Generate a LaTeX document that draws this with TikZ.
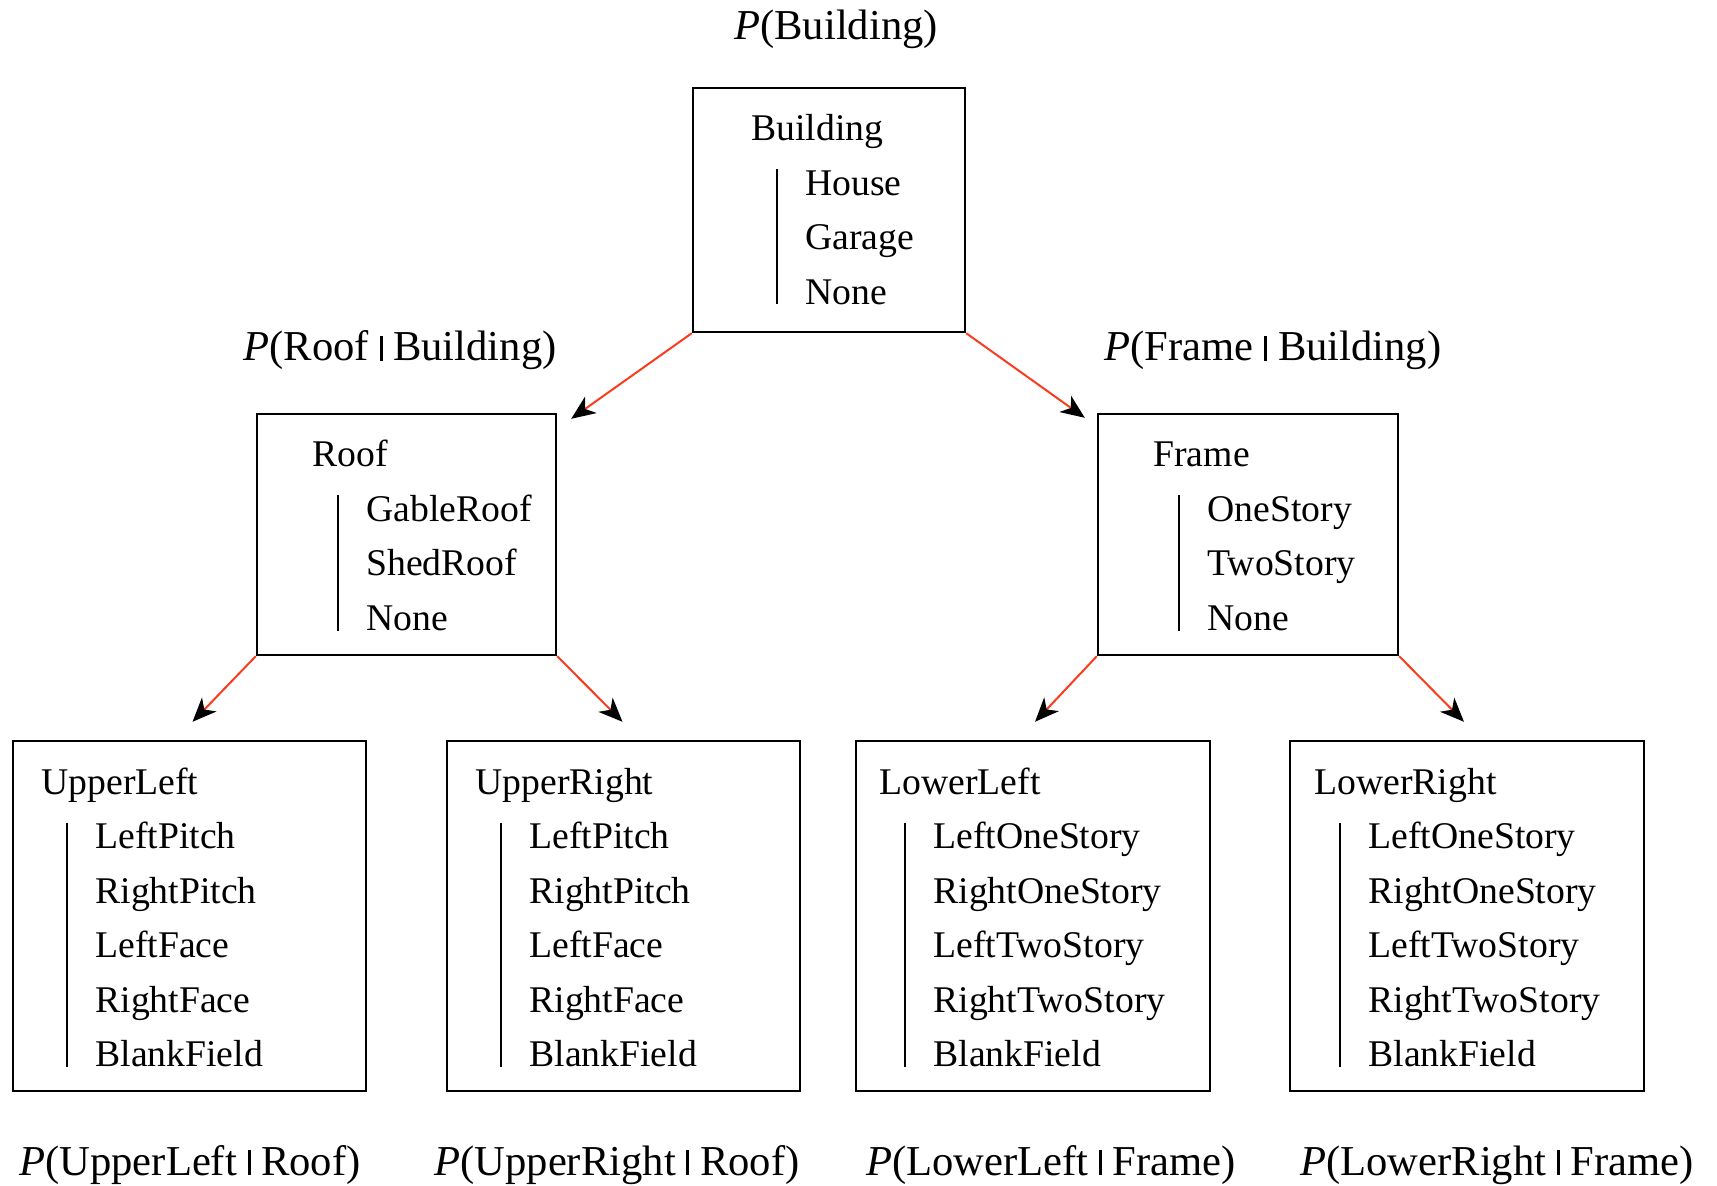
\documentclass[tikz,border=0pt]{standalone}
\usepackage{fontspec}
\setmainfont{Liberation Serif}
\usetikzlibrary{arrows.meta,calc}

\definecolor{linkred}{RGB}{250,60,30}
\newcommand{\given}{\rule{1.5pt}{0.58em}}

\begin{document}
\begin{tikzpicture}[x=0.5pt,y=-0.5pt,
  frm/.style={draw,line width=1.2pt,inner sep=0pt},
  txt/.style={inner sep=0pt,font=\fontsize{18.85}{22}\selectfont},
  lbl/.style={inner sep=0pt,font=\fontsize{21.3}{25}\selectfont},
  link/.style={linkred,line width=1pt,-{Stealth[length=12pt,width=10pt,inset=3.5pt,color=black]}}]
\useasboundingbox (0,0) rectangle (1717,1186);
% boxes: name/left/top/width/height/indent/title/parts/count
\foreach \nm/\lx/\ty/\w/\h/\ti/\ttl/\parts/\n in {
  bld/693/88/272/244/58/Building/{House,Garage,None}/3,
  roof/257/414/299/241/55/Roof/{GableRoof,ShedRoof,None}/3,
  frame/1098/414/300/241/55/Frame/{OneStory,TwoStory,None}/3,
  ul/13/741/353/350/28/UpperLeft/{LeftPitch,RightPitch,LeftFace,RightFace,BlankField}/5,
  ur/447/741/353/350/28/UpperRight/{LeftPitch,RightPitch,LeftFace,RightFace,BlankField}/5,
  ll/856/741/354/350/23/LowerLeft/{LeftOneStory,RightOneStory,LeftTwoStory,RightTwoStory,BlankField}/5,
  lr/1290/741/354/350/24/LowerRight/{LeftOneStory,RightOneStory,LeftTwoStory,RightTwoStory,BlankField}/5}{
  \node[frm,minimum width=\w*0.5pt,minimum height=\h*0.5pt] (\nm) at (\lx+\w/2,\ty+\h/2) {};
  \node[txt,anchor=base west] (\nm-t) at (\lx+\ti,\ty+53) {\ttl};
  \foreach \p [count=\i] in \parts
    \node[txt,anchor=base west] (\nm-\i) at (\lx+\ti+54,\ty+53+\i*54.5) {\p};
  \draw[line width=1.1pt] ($(\nm-1.base west)+(-28,-26)$) -- ($(\nm-\n.base west)+(-28,0)$);
}
% probability labels
\node[lbl,anchor=base] (pbld) at (836,40) {\textit{P}(Building)};
\node[lbl,anchor=base] (proof) at (400,361) {\textit{P}(Roof \given{} Building)};
\node[lbl,anchor=base] (pframe) at (1273,361) {\textit{P}(Frame \given{} Building)};
\node[lbl,anchor=base] (pul) at (190,1175) {\textit{P}(UpperLeft \given{} Roof)};
\node[lbl,anchor=base] (pur) at (617,1175) {\textit{P}(UpperRight \given{} Roof)};
\node[lbl,anchor=base] (pll) at (1051,1175) {\textit{P}(LowerLeft \given{} Frame)};
\node[lbl,anchor=base] (plr) at (1497,1175) {\textit{P}(LowerRight \given{} Frame)};
% links
\draw[link] (bld.south west) -- ([shift={(14,6)}]roof.north east);
\draw[link] (bld.south east) -- ([shift={(-12,5)}]frame.north west);
\draw[link] (roof.south west) -- ([shift={(3,-18)}]ul.north);
\draw[link] (roof.south east) -- ([shift={(-1,-18)}]ur.north);
\draw[link] (frame.south west) -- ([shift={(2,-18)}]ll.north);
\draw[link] (frame.south east) -- ([shift={(-3,-18)}]lr.north);
\end{tikzpicture}
\end{document}
